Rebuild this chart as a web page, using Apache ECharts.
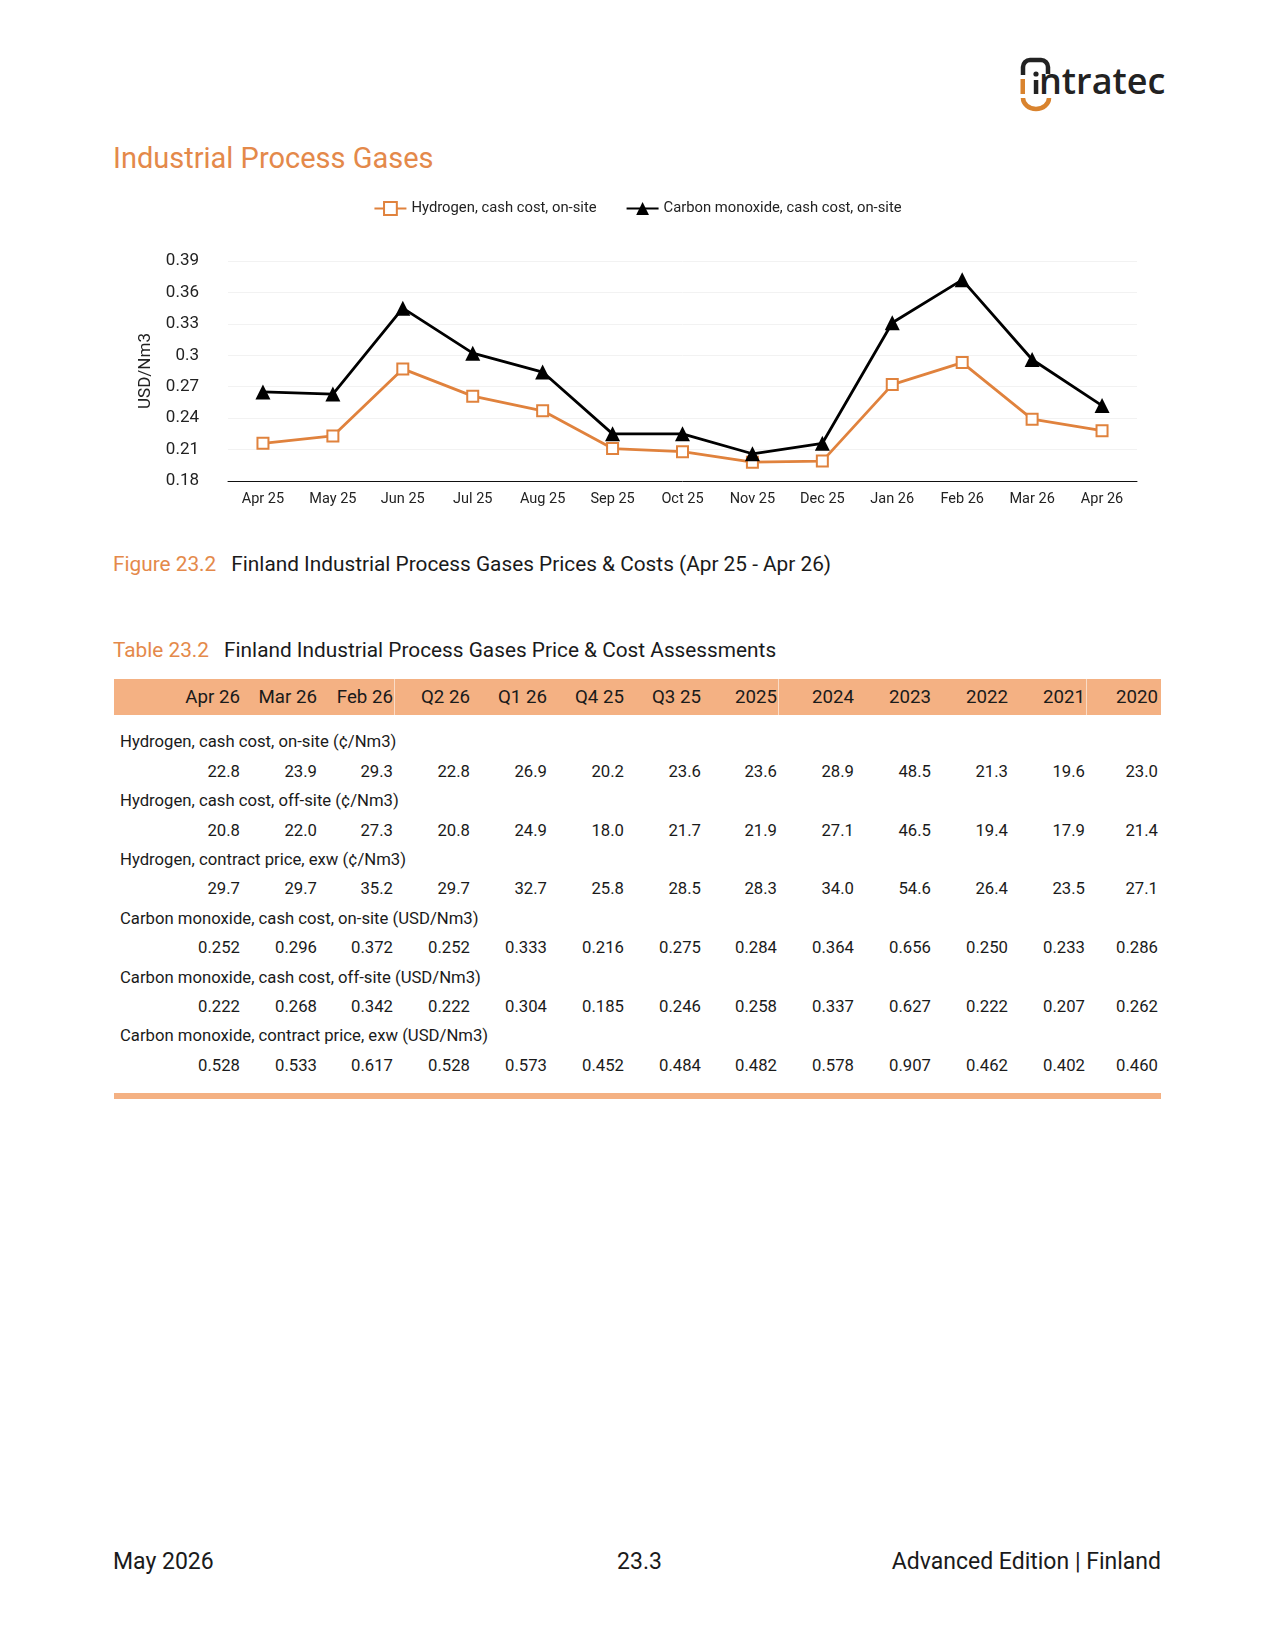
<!DOCTYPE html>
<html>
<head>
<meta charset="utf-8">
<script src="https://cdn.jsdelivr.net/npm/echarts@6/dist/echarts.min.js"></script>
<style>
  html, body { margin: 0; padding: 0; background: #fff; }
  #page { position: relative; width: 1275px; height: 1650px; font-family: 'Roboto', sans-serif; color: #1a1a1a; overflow: hidden; }
  .abs { position: absolute; white-space: nowrap; }
  .orange { color: #e4894a; }
  #title { left: 113px; top: 140px; font-size: 29px; line-height: 36px; }
  #fig-cap { left: 113px; top: 551px; font-size: 20.8px; line-height: 26px; }
  #tbl-cap { left: 113px; top: 637px; font-size: 20.8px; line-height: 26px; }
  .cap-gap { display: inline-block; width: 15px; }
  #chart { position: absolute; left: 0; top: 0; width: 1275px; height: 540px; }
  #thead { position: absolute; left: 114px; top: 679px; width: 1047px; height: 36px; background: #f4b183; }
  .sep { position: absolute; top: 679px; width: 1px; height: 36px; background: rgba(255,255,255,0.55); }
  .cell { position: absolute; line-height: 29.4px; height: 29.4px; font-size: 16.7px; text-align: right; }
  .hcell { position: absolute; top: 679px; line-height: 36px; height: 36px; font-size: 18.7px; text-align: right; }
  .rlabel { position: absolute; left: 120px; line-height: 29.4px; height: 29.4px; font-size: 16.7px; }
  #tbottom { position: absolute; left: 114px; top: 1093px; width: 1047px; height: 6px; background: #f4b183; }
  .foot { position: absolute; top: 1547px; font-size: 23px; line-height: 29px; }
</style>
</head>
<body>
<div id="page">
  <svg class="abs" style="left:0;top:0" width="1275" height="130">
    <path d="M1023 75 V67 a7 7 0 0 1 7 -7 h11 a7 7 0 0 1 7 7 v7" stroke="#222" stroke-width="4.5" fill="none"/>
    <rect x="1020.5" y="79" width="4.5" height="15" fill="#d9832e"/>
    <circle cx="1036" cy="74" r="2.6" fill="#222"/>
    <rect x="1033.8" y="80" width="4.5" height="14" fill="#222"/>
    <path d="M1023 98 a13 11 0 0 0 26 0" stroke="#d9832e" stroke-width="4.5" fill="none"/>
    <text x="1039" y="94" font-family="Open Sans" font-weight="600" font-size="36" fill="#222">ntratec</text>
  </svg>

  <div id="title" class="abs orange">Industrial Process Gases</div>
  <div id="chart"></div>
  <div id="fig-cap" class="abs"><span class="orange">Figure 23.2</span><span class="cap-gap"></span>Finland Industrial Process Gases Prices &amp; Costs (Apr 25 - Apr 26)</div>
  <div id="tbl-cap" class="abs"><span class="orange">Table 23.2</span><span class="cap-gap"></span>Finland Industrial Process Gases Price &amp; Cost Assessments</div>

  <div id="thead"></div>
  <div id="table"></div>
  <div id="tbottom"></div>

  <div class="foot" style="left:113px;">May 2026</div>
  <div class="foot" style="left:2px;width:1275px;text-align:center;">23.3</div>
  <div class="foot" style="right:114px;">Advanced Edition | Finland</div>
</div>

<script>
// chart data
const months = ['Apr 25', 'May 25', 'Jun 25', 'Jul 25', 'Aug 25', 'Sep 25', 'Oct 25', 'Nov 25', 'Dec 25', 'Jan 26', 'Feb 26', 'Mar 26', 'Apr 26']
const hydrogenOnSite = [0.216, 0.223, 0.287, 0.261, 0.247, 0.211, 0.208, 0.198, 0.199, 0.272, 0.293, 0.239, 0.228]
const carbonMonoxideOnSite = [0.265, 0.263, 0.345, 0.302, 0.284, 0.225, 0.225, 0.206, 0.216, 0.331, 0.372, 0.296, 0.252]
const yMin = 0.18
const yMax = 0.39
const yStep = 0.03

// table data
const tableCols = ['Apr 26', 'Mar 26', 'Feb 26', 'Q2 26', 'Q1 26', 'Q4 25', 'Q3 25', '2025', '2024', '2023', '2022', '2021', '2020']
const h2OnSite = ['22.8', '23.9', '29.3', '22.8', '26.9', '20.2', '23.6', '23.6', '28.9', '48.5', '21.3', '19.6', '23.0']
const h2OffSite = ['20.8', '22.0', '27.3', '20.8', '24.9', '18.0', '21.7', '21.9', '27.1', '46.5', '19.4', '17.9', '21.4']
const h2Contract = ['29.7', '29.7', '35.2', '29.7', '32.7', '25.8', '28.5', '28.3', '34.0', '54.6', '26.4', '23.5', '27.1']
const coOnSite = ['0.252', '0.296', '0.372', '0.252', '0.333', '0.216', '0.275', '0.284', '0.364', '0.656', '0.250', '0.233', '0.286']
const coOffSite = ['0.222', '0.268', '0.342', '0.222', '0.304', '0.185', '0.246', '0.258', '0.337', '0.627', '0.222', '0.207', '0.262']
const coContract = ['0.528', '0.533', '0.617', '0.528', '0.573', '0.452', '0.484', '0.482', '0.578', '0.907', '0.462', '0.402', '0.460']
const tableRows = [
  ['Hydrogen, cash cost, on-site (¢/Nm3)', h2OnSite],
  ['Hydrogen, cash cost, off-site (¢/Nm3)', h2OffSite],
  ['Hydrogen, contract price, exw (¢/Nm3)', h2Contract],
  ['Carbon monoxide, cash cost, on-site (USD/Nm3)', coOnSite],
  ['Carbon monoxide, cash cost, off-site (USD/Nm3)', coOffSite],
  ['Carbon monoxide, contract price, exw (USD/Nm3)', coContract]
]

// right edge of each table column (px)
const colRight = [240, 317, 393, 470, 547, 624, 701, 777, 854, 931, 1008, 1085, 1158]
const sepAfter = [2, 7, 11]

function buildTable () {
  const box = document.getElementById('table')
  let html = ''
  tableCols.forEach((c, i) => {
    html += '<div class="hcell" style="left:' + (colRight[i] - 90) + 'px;width:90px;">' + c + '</div>'
  })
  sepAfter.forEach(i => {
    html += '<div class="sep" style="left:' + (colRight[i] + 1) + 'px;"></div>'
  })
  const rowH = 29.4
  let top = 727.3
  tableRows.forEach(r => {
    html += '<div class="rlabel" style="top:' + top + 'px;">' + r[0] + '</div>'
    top += rowH
    r[1].forEach((v, i) => {
      html += '<div class="cell" style="top:' + top + 'px;left:' + (colRight[i] - 90) + 'px;width:90px;">' + v + '</div>'
    })
    top += rowH
  })
  box.innerHTML = html
}
buildTable()

const chart = echarts.init(document.getElementById('chart'))
chart.setOption({
  animation: false,
  textStyle: { fontFamily: 'Roboto' },
  legend: {
    left: 'center',
    top: 196,
    itemWidth: 32,
    itemHeight: 16,
    itemGap: 29,
    textStyle: { fontSize: 14.8, color: '#222', fontFamily: 'Roboto' },
    data: ['Hydrogen, cash cost, on-site', 'Carbon monoxide, cash cost, on-site']
  },
  grid: {
    left: 228,
    right: 138,
    top: 261,
    height: 220,
    containLabel: false
  },
  xAxis: {
    type: 'category',
    data: months,
    boundaryGap: true,
    axisLine: { show: true, lineStyle: { color: '#111', width: 1 } },
    axisTick: { show: false },
    axisLabel: { margin: 11, fontSize: 14.5, color: '#222', fontFamily: 'Roboto' },
    splitLine: { show: false }
  },
  yAxis: {
    type: 'value',
    min: yMin,
    max: yMax,
    interval: yStep,
    name: 'USD/Nm3',
    nameLocation: 'middle',
    nameRotate: 90,
    nameGap: 74,
    nameTextStyle: { fontSize: 17, color: '#222', fontFamily: 'Roboto' },
    axisLine: { show: false },
    axisTick: { show: false },
    axisLabel: { margin: 29, fontSize: 17, color: '#222', fontFamily: 'Roboto' },
    splitLine: { show: true, lineStyle: { color: '#f2f2f2', width: 1 } }
  },
  series: [
    {
      name: 'Hydrogen, cash cost, on-site',
      type: 'line',
      data: hydrogenOnSite,
      symbol: 'emptyRect',
      symbolSize: 11,
      lineStyle: { color: '#e0823d', width: 2.8 },
      itemStyle: { color: '#e0823d', borderWidth: 2.4 }
    },
    {
      name: 'Carbon monoxide, cash cost, on-site',
      type: 'line',
      data: carbonMonoxideOnSite,
      symbol: 'triangle',
      symbolSize: 15,
      lineStyle: { color: '#000', width: 2.8 },
      itemStyle: { color: '#000' }
    }
  ]
})
</script>
</body>
</html>
